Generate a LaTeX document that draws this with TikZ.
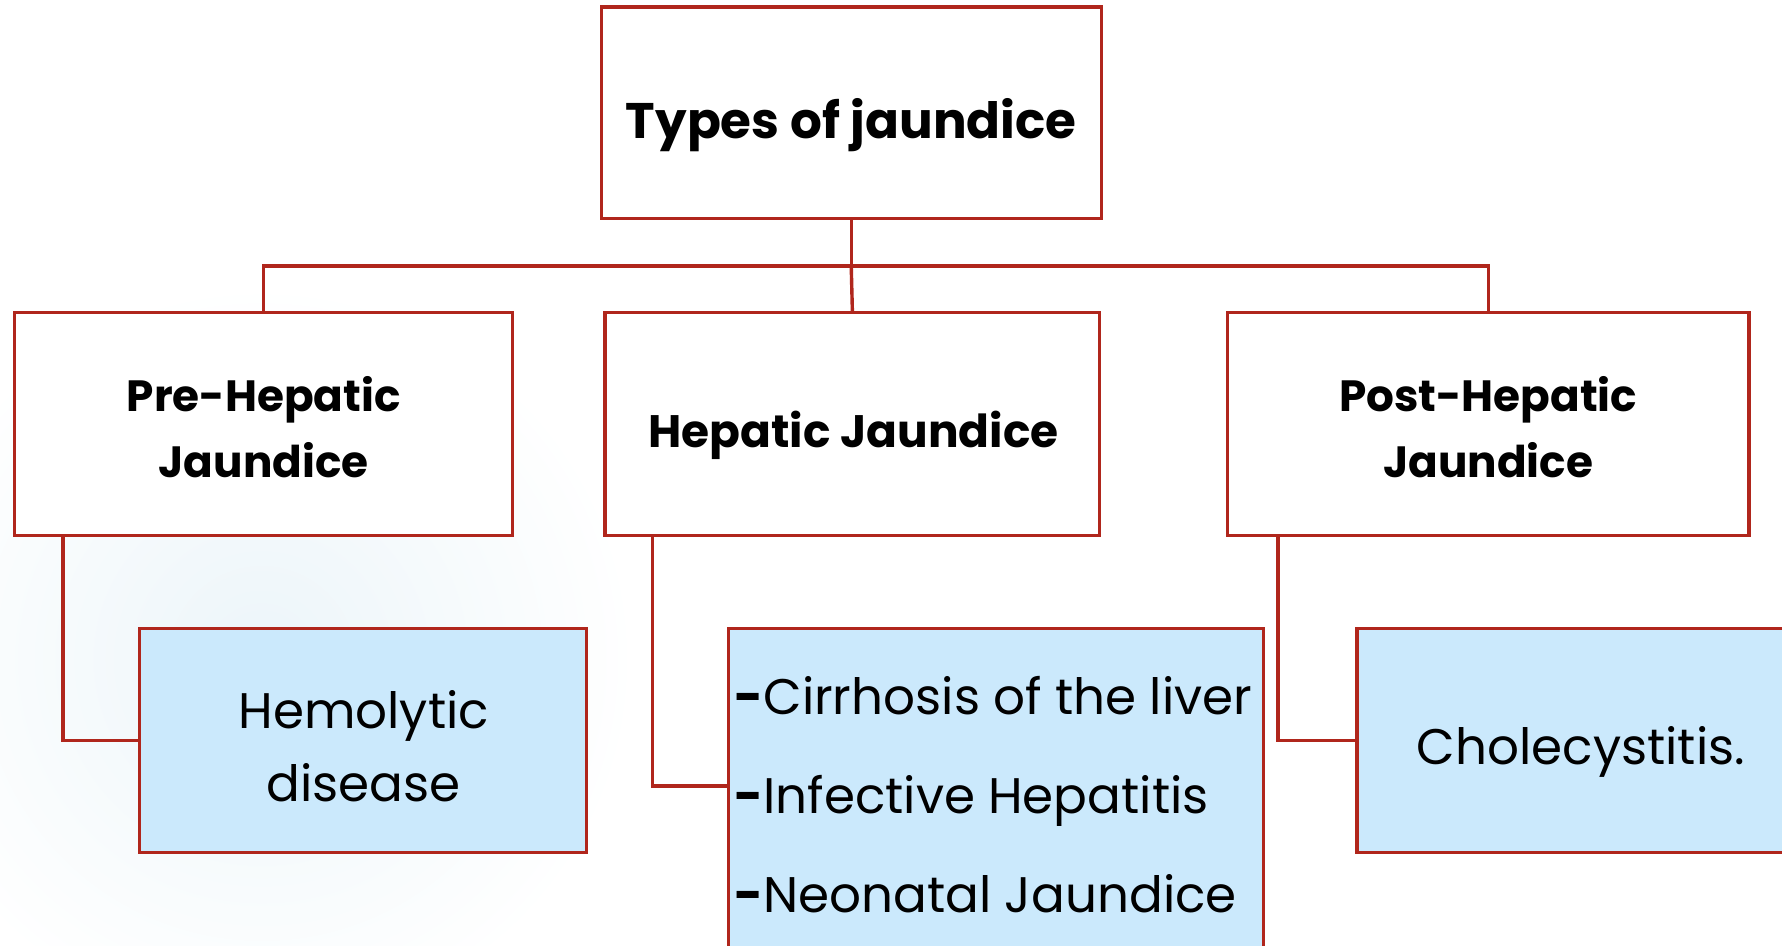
\documentclass[tikz,border=0pt]{standalone}
\usepackage{fontspec}
\setmainfont{Poppins}
\definecolor{boxred}{RGB}{176,38,28}
\definecolor{leafblue}{RGB}{203,233,252}
\definecolor{bgtint}{RGB}{236,245,249}
\begin{document}
\begin{tikzpicture}[x=1pt,y=-1pt,
  conn/.style={draw=boxred,line width=3pt},
  headbox/.style={draw=boxred,line width=3pt,fill=white,rectangle,inner sep=0pt},
  leafbox/.style={draw=boxred,line width=3pt,fill=leafblue,rectangle,inner sep=0pt},
  titletext/.style={anchor=base,inner sep=0pt,font=\fontsize{44}{58}\bfseries},
  headtext/.style={anchor=base,inner sep=0pt,align=center,font=\fontsize{38.5}{58}\bfseries},
  leaftext/.style={anchor=base,inner sep=0pt,align=center,font=\fontsize{44}{64}\selectfont},
]
\useasboundingbox (0,0) rectangle (1568,832);
\clip (0,0) rectangle (1568,832);
\fill[white] (0,0) rectangle (1568,832);
\shade[inner color=bgtint,outer color=white] (230,580) circle (330);

% boxes
\node[headbox,minimum width=440pt,minimum height=186pt] (top) at (749,99) {};
\node[headbox,minimum width=438pt,minimum height=196pt] (pre) at (232,373) {};
\node[headbox,minimum width=435pt,minimum height=196pt] (hep) at (750,373) {};
\node[headbox,minimum width=459pt,minimum height=196pt] (post) at (1309.5,373) {};
\node[leafbox,minimum width=393pt,minimum height=197pt] (hemo) at (319.5,651.5) {};
\node[leafbox,minimum width=471pt,minimum height=347pt] (mid) at (876.5,726.5) {};
\node[leafbox,minimum width=446pt,minimum height=197pt] (chole) at (1417,651.5) {};

% texts (base anchor = baseline of the last line)
\node[titletext] (toptext) at (749,122) {Types of jaundice};
\node[headtext] (pretext) at (232,420.5) {Pre-Hepatic\\Jaundice};
\node[headtext,font=\fontsize{40}{58}\bfseries] (heptext) at (751,394) {Hepatic Jaundice};
\node[headtext] (posttext) at (1309.5,420.5) {Post-Hepatic\\Jaundice};
\node[leaftext] (hemotext) at (320,705) {Hemolytic\\disease};
\node[leaftext,anchor=base west,align=left,font=\fontsize{44}{87}\selectfont] (midtext) at (646,803)
  {\textbf{-}Cirrhosis of the liver\\\textbf{-}Infective Hepatitis\\\textbf{-}Neonatal Jaundice};
\node[leaftext] (choletext) at (1391,673) {Cholecystitis.};

% connectors
\coordinate (bus) at (749,234);
\draw[conn] (top.south) -- (bus);
\draw[conn] (pre.north) |- (bus) -| (post.north);
\draw[conn] (bus) -- (hep.north);
\draw[conn] ([xshift=44pt]pre.south west) |- (hemo.west);
\draw[conn] ([xshift=43pt]hep.south west) |- ([yshift=-140pt]mid.north west);
\draw[conn] ([xshift=46pt]post.south west) |- (chole.west);
\end{tikzpicture}
\end{document}
